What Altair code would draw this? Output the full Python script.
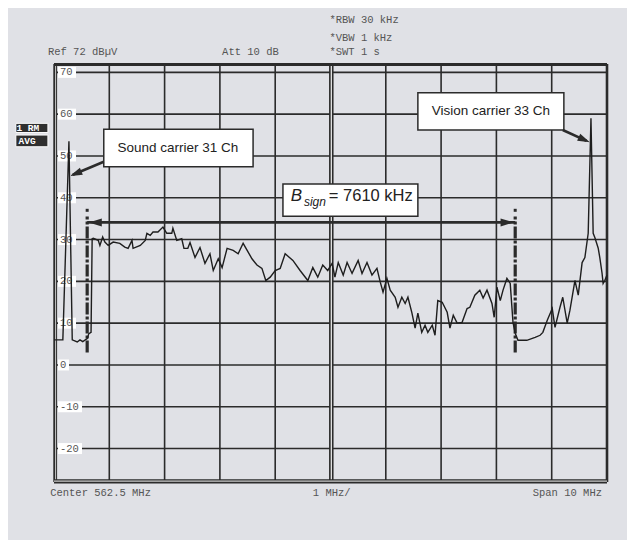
import altair as alt
import pandas as pd

# ---------------- data ----------------
# frequency offset from centre 562.5 MHz (MHz) and level (dBuV)
freq_mhz = [
    -5.00, -4.84, -4.73, -4.67, -4.58, -4.53, -4.48, -4.40, -4.37, -4.33, -4.31,
    -4.29, -4.20, -4.17, -4.12, -4.08, -4.02, -3.93, -3.81, -3.72, -3.66, -3.59,
    -3.57, -3.44, -3.35, -3.32, -3.26, -3.21, -3.12, -3.03, -2.96, -2.87, -2.85,
    -2.78, -2.69, -2.65, -2.58, -2.54, -2.45, -2.36, -2.27, -2.18, -2.12, -2.03,
    -1.96, -1.87, -1.76, -1.67, -1.58, -1.42, -1.33, -1.24, -1.17, -1.09, -1.00,
    -0.91, -0.82, -0.68, -0.55, -0.41, -0.32, -0.23, -0.14, -0.05, 0.03, 0.08,
    0.14, 0.23, 0.30, 0.39, 0.50, 0.57, 0.66, 0.75, 0.84, 0.90, 0.95,
    1.02, 1.08, 1.17, 1.22, 1.29, 1.35, 1.40, 1.47, 1.53, 1.58, 1.65,
    1.71, 1.76, 1.84, 1.89, 1.94, 2.02, 2.11, 2.16, 2.22, 2.29, 2.38,
    2.47, 2.52, 2.61, 2.70, 2.76, 2.83, 2.92, 2.96, 3.01, 3.07, 3.12,
    3.19, 3.25, 3.30, 3.34, 3.39, 3.55, 3.70, 3.79, 3.84, 3.92, 4.01,
    4.06, 4.15, 4.20, 4.28, 4.33, 4.42, 4.48, 4.55, 4.60, 4.66, 4.71,
    4.75, 4.78, 4.84, 4.87, 4.91, 4.93, 4.96, 5.00,
]
level_dbuv = [
    6.0, 6.0, 53.5, 6.0, 5.5, 6.0, 5.6, 6.3, 7.5, 7.8, 30.2,
    30.3, 29.8, 28.6, 30.6, 29.4, 28.6, 29.4, 29.1, 28.2, 27.9, 29.8,
    27.9, 28.6, 29.8, 31.5, 31.0, 31.8, 31.8, 33.0, 31.5, 31.5, 32.7,
    29.8, 30.2, 27.9, 27.9, 29.3, 25.7, 28.1, 24.3, 26.6, 22.6, 25.4,
    23.3, 27.9, 27.4, 26.6, 29.1, 25.4, 23.9, 23.1, 20.2, 21.0, 22.6,
    23.1, 26.6, 25.0, 22.6, 20.2, 23.3, 21.0, 23.9, 22.6, 24.3, 21.0,
    24.5, 21.5, 24.5, 21.9, 25.0, 21.9, 24.5, 21.5, 23.1, 19.8, 17.4,
    20.7, 17.9, 16.2, 13.8, 16.2, 14.7, 16.2, 12.6, 8.8, 12.4, 7.8,
    9.5, 7.8, 9.5, 7.1, 15.4, 15.0, 12.6, 8.8, 11.9, 10.0, 10.2,
    13.5, 13.8, 16.7, 17.9, 16.0, 17.9, 14.7, 11.4, 18.6, 15.4, 17.9,
    20.7, 19.5, 10.2, 7.6, 5.9, 5.9, 6.6, 7.1, 7.8, 10.7, 13.5,
    9.0, 13.8, 16.2, 10.0, 13.1, 20.2, 16.7, 24.5, 25.7, 31.5, 59.0,
    31.5, 30.5, 28.0, 25.7, 22.0, 19.5, 20.2, 21.5,
]

grid_freq = [-4, -3, -2, -1, 1, 2, 3, 4]
grid_level = [-20, -10, 0, 10, 20, 30, 40, 50, 60, 70]
tick_text = ["-20", "-10", "0", "10", "20", "30", "40", "50", "60", "70"]

marker_freq = [-4.40, 3.34]      # B_sign limits (7610 kHz)

BG = "#e0e1e6"
INK = "#2b2b2b"
GREY_TXT = "#555555"
MONO = "Liberation Mono"
SANS = "Liberation Sans"

XS = alt.Scale(domain=[-5, 5], nice=False, zero=False)
YS = alt.Scale(domain=[-28, 72], nice=False, zero=False)


def X(field="f"):
    return alt.X(f"{field}:Q", scale=XS, axis=None)


def Y(field="v"):
    return alt.Y(f"{field}:Q", scale=YS, axis=None)


layers = []

# ---- grid ----
layers.append(alt.Chart(pd.DataFrame({"f": grid_freq})).mark_rule(
    color=INK, strokeWidth=1.6).encode(x=X()))
layers.append(alt.Chart(pd.DataFrame({"v": grid_level})).mark_rule(
    color=INK, strokeWidth=1.6).encode(y=Y()))

# centre double line
centre = pd.DataFrame({"f": [0]})
layers.append(alt.Chart(centre).mark_rule(color=INK, strokeWidth=4.5, xOffset=0.8).encode(x=X()))
layers.append(alt.Chart(centre).mark_rule(color="#f4f4f4", strokeWidth=1.2, xOffset=0.8).encode(x=X()))

# frame
left = pd.DataFrame({"f": [-5]})
layers.append(alt.Chart(left).mark_rule(color=INK, strokeWidth=3.8, xOffset=1.2).encode(x=X()))
layers.append(alt.Chart(left).mark_rule(color="#f4f4f4", strokeWidth=0.8, xOffset=1.6).encode(x=X()))
right = pd.DataFrame({"f": [5]})
layers.append(alt.Chart(right).mark_rule(color=INK, strokeWidth=2.6).encode(x=X()))
top = pd.DataFrame({"v": [72]})
layers.append(alt.Chart(top).mark_rule(color=INK, strokeWidth=3.0, yOffset=0.5).encode(y=Y()))
bottom = pd.DataFrame({"v": [-28]})
layers.append(alt.Chart(bottom).mark_rule(color=INK, strokeWidth=4.2, yOffset=-0.7).encode(y=Y()))
layers.append(alt.Chart(bottom).mark_rule(color="#f4f4f4", strokeWidth=1.0, yOffset=-0.9).encode(y=Y()))

# ---- level labels inside the grid (white boxes) ----
ticks = pd.DataFrame({"f": [-5] * len(grid_level), "v": grid_level, "t": tick_text,
                      "n": [len(t) for t in tick_text]})
for n, w in [(1, 11), (2, 18), (3, 24)]:
    layers.append(alt.Chart(ticks).transform_filter(alt.datum.n == n).mark_rect(
        color="white", width=w, height=11, xOffset=4 + w / 2).encode(x=X(), y=Y()))
layers.append(alt.Chart(ticks).mark_text(
    font=MONO, fontSize=10.5, color=GREY_TXT, align="left", baseline="middle", dx=6
).encode(x=X(), y=Y(), text="t:N"))

# ---- B_sign markers (dash-dot) ----
mk = pd.DataFrame({"f": marker_freq, "v": [3.0] * 2, "v2": [35.5] * 2})
layers.append(alt.Chart(mk).mark_rule(color=INK, strokeWidth=3.2, strokeDash=[12, 2, 3, 2]).encode(
    x=X(), y=Y(), y2="v2:Q"))
mkdot = pd.DataFrame({"f": marker_freq, "v": [37.0] * 2})
layers.append(alt.Chart(mkdot).mark_point(shape="square", filled=True, size=9, color=INK, opacity=1).encode(
    x=X(), y=Y()))

# ---- spectrum trace ----
trace = pd.DataFrame({"f": freq_mhz, "v": level_dbuv, "i": range(len(freq_mhz))})
layers.append(alt.Chart(trace).mark_line(color="#1e1e1e", strokeWidth=1.4).encode(
    x=X(), y=Y(), order="i:Q"))

# ---- double arrow B_sign ----
arr = pd.DataFrame({"f": [marker_freq[0]], "f2": [marker_freq[1]], "v": [34.1]})
layers.append(alt.Chart(arr).mark_rule(color=INK, strokeWidth=2.6).encode(
    x=X(), x2="f2:Q", y=Y()))
LEFT_HEAD = "M0,0 L2,-0.62 L2,0.62 Z"
RIGHT_HEAD = "M0,0 L-2,-0.62 L-2,0.62 Z"
layers.append(alt.Chart(pd.DataFrame({"f": [marker_freq[0] + 0.03], "v": [34.1]})).mark_point(
    shape=LEFT_HEAD, filled=True, size=169, color=INK, opacity=1).encode(x=X(), y=Y()))
layers.append(alt.Chart(pd.DataFrame({"f": [marker_freq[1] - 0.03], "v": [34.1]})).mark_point(
    shape=RIGHT_HEAD, filled=True, size=169, color=INK, opacity=1).encode(x=X(), y=Y()))

# ---- callout boxes ----
boxes = pd.DataFrame({
    "f": [-4.10, 1.58, -0.86], "f2": [-1.40, 4.22, 1.58],
    "v": [47.4, 56.2, 35.6], "v2": [56.4, 65.1, 43.3],
})
layers.append(alt.Chart(boxes).mark_rect(fill="white", stroke=INK, strokeWidth=1.5).encode(
    x=X(), x2="f2:Q", y=Y(), y2="v2:Q"))

# callout arrows
carrows = pd.DataFrame({"f": [-4.10, 4.20], "v": [48.6, 56.2], "f2": [-4.66, 4.63], "v2": [45.5, 53.6]})
layers.append(alt.Chart(carrows).mark_rule(color=INK, strokeWidth=2.6).encode(
    x=X(), y=Y(), x2="f2:Q", y2="v2:Q"))
layers.append(alt.Chart(pd.DataFrame({"f": [-4.71], "v": [45.2]})).mark_point(
    shape=LEFT_HEAD, filled=True, size=150, angle=337.6, color=INK, opacity=1).encode(x=X(), y=Y()))
layers.append(alt.Chart(pd.DataFrame({"f": [4.69], "v": [53.3]})).mark_point(
    shape=RIGHT_HEAD, filled=True, size=150, angle=24, color=INK, opacity=1).encode(x=X(), y=Y()))

# callout texts
ctext = pd.DataFrame({"f": [-2.76, 2.90], "v": [52.0, 60.7],
                      "t": ["Sound carrier 31 Ch", "Vision carrier 33 Ch"]})
layers.append(alt.Chart(ctext).mark_text(font=SANS, fontSize=13.5, color="#222", align="center",
                                         baseline="middle").encode(x=X(), y=Y(), text="t:N"))
layers.append(alt.Chart(pd.DataFrame({"f": [-0.72], "v": [39.2], "t": ["B"]})).mark_text(
    font=SANS, fontSize=17, fontStyle="italic", color="#222", align="left", baseline="alphabetic"
).encode(x=X(), y=Y(), text="t:N"))
layers.append(alt.Chart(pd.DataFrame({"f": [-0.48], "v": [38.0], "t": ["sign"]})).mark_text(
    font=SANS, fontSize=12, fontStyle="italic", color="#222", align="left", baseline="alphabetic"
).encode(x=X(), y=Y(), text="t:N"))
layers.append(alt.Chart(pd.DataFrame({"f": [-0.03], "v": [39.2], "t": ["= 7610 kHz"]})).mark_text(
    font=SANS, fontSize=16.5, color="#222", align="left", baseline="alphabetic"
).encode(x=X(), y=Y(), text="t:N"))

# ---- instrument header / footer texts ----
hdr = pd.DataFrame({
    "f": [-0.02, -0.02, -0.02, -5.11, -1.96, -5.07, -0.32],
    "v": [82.5, 78.2, 74.9, 74.9, 74.9, -30.6, -30.6],
    "t": ["*RBW 30 kHz", "*VBW 1 kHz", "*SWT 1 s", "Ref 72 dB\u00b5V", "Att 10 dB",
          "Center 562.5 MHz", "1 MHz/"],
})
layers.append(alt.Chart(hdr).mark_text(font=MONO, fontSize=10.5, color=GREY_TXT, align="left",
                                       baseline="middle").encode(x=X(), y=Y(), text="t:N"))
layers.append(alt.Chart(pd.DataFrame({"f": [4.91], "v": [-30.6], "t": ["Span 10 MHz"]})).mark_text(
    font=MONO, fontSize=10.5, color=GREY_TXT, align="right", baseline="middle"
).encode(x=X(), y=Y(), text="t:N"))

# trace-info badges
badges = pd.DataFrame({"f": [-5.69, -5.69], "f2": [-5.11, -5.11], "v": [55.6, 52.2], "v2": [57.8, 55.0]})
layers.append(alt.Chart(badges).mark_rect(fill="#2f2f2f", stroke="white", strokeWidth=1).encode(
    x=X(), x2="f2:Q", y=Y(), y2="v2:Q"))
btxt = pd.DataFrame({"f": [-5.68, -5.64], "v": [56.7, 53.6], "t": ["1 RM", "AVG"]})
layers.append(alt.Chart(btxt).mark_text(font=MONO, fontSize=9.5, fontWeight="bold", color="white",
                                        align="left", baseline="middle").encode(x=X(), y=Y(), text="t:N"))

chart = alt.layer(*layers).properties(
    width=553, height=418,
    padding={"left": 46, "top": 56, "right": 20, "bottom": 58},
    autosize=alt.AutoSizeParams(type="none"),
    background=BG,
).configure_view(stroke=None)

chart.save("out.html", embed_options={"renderer": "svg", "actions": False})
